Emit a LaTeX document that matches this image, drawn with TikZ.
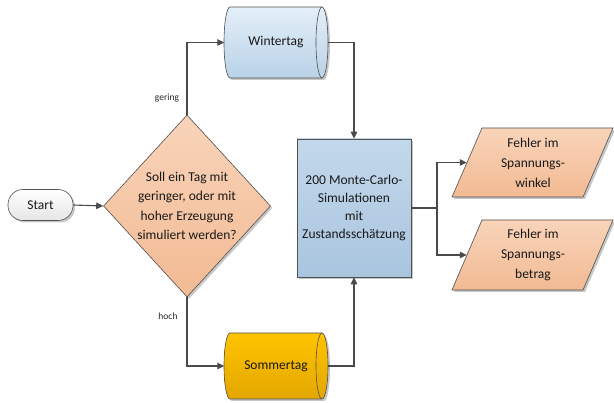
\documentclass[tikz,border=0pt]{standalone}
\usepackage{fontspec}
\setmainfont{Carlito}
\usetikzlibrary{arrows.meta,shapes.geometric,shadows}
\definecolor{linegray}{HTML}{4A4A4A}
\definecolor{edgegray}{HTML}{505050}
\definecolor{peachT}{HTML}{F9D4BA}
\definecolor{peachB}{HTML}{F2BA93}
\definecolor{winterT}{HTML}{E4EFF8}
\definecolor{winterB}{HTML}{B9D2E7}
\definecolor{sommerT}{HTML}{FFC400}
\definecolor{sommerB}{HTML}{E3A600}
\definecolor{boxT}{HTML}{C3D8EB}
\definecolor{boxB}{HTML}{A9C5DF}
\begin{document}
\begin{tikzpicture}[x=1pt,y=-1pt,
  line/.style={draw=linegray, line width=1.1pt},
  arr/.style={line, -{Triangle[length=7pt,width=6.5pt]}},
  txt/.style={font=\fontsize{13.5}{18.5}\selectfont, align=center, text=black!90, inner sep=0pt},
  lbl/.style={font=\fontsize{9.5}{11}\selectfont, text=black!85, inner sep=0pt},
  shd/.style={drop shadow={opacity=0.22, shadow xshift=2pt, shadow yshift=-2pt, fill=black}},
  edge/.style={draw=edgegray, line width=0.6pt},
  peach/.style={top color=peachT, bottom color=peachB}
]
\useasboundingbox (0,0) rectangle (614,403);

% Start
\node[txt, edge, shd, rounded corners=15pt, minimum width=65pt, minimum height=31pt,
      top color=white, bottom color=black!10] (start) at (40.5,205) {Start};

% Decision
\node[diamond, edge, shd, peach, minimum width=167pt, minimum height=182pt, inner sep=0pt] (dia) at (187,206) {};
\node[txt, font=\fontsize{13.5}{19.3}\selectfont] (q) at (dia.center) {Soll ein Tag mit\\geringer, oder mit\\hoher Erzeugung\\simuliert werden?};

% Wintertag cylinder
\path[edge, shd, top color=winterT, bottom color=winterB]
  (230,7) -- (322,7) arc[start angle=90, end angle=-90, x radius=6pt, y radius=35.5pt]
  -- (230,78) arc[start angle=270, end angle=90, x radius=6pt, y radius=35.5pt] -- cycle;
\draw[edge] (322,7) arc[start angle=90, end angle=270, x radius=6pt, y radius=35.5pt];
\node[txt, minimum width=103pt, minimum height=71pt] (wt) at (276,42.5) {Wintertag};

% Sommertag cylinder
\path[edge, shd, top color=sommerT, bottom color=sommerB]
  (230,333) -- (322,333) arc[start angle=90, end angle=-90, x radius=6pt, y radius=33pt]
  -- (230,399) arc[start angle=270, end angle=90, x radius=6pt, y radius=33pt] -- cycle;
\draw[edge] (322,333) arc[start angle=90, end angle=270, x radius=6pt, y radius=33pt];
\node[txt, minimum width=103pt, minimum height=66pt] (st) at (276,366) {Sommertag};

% Simulation box
\node[txt, edge, shd, top color=boxT, bottom color=boxB, minimum width=114pt, minimum height=138pt,
      font=\fontsize{13.5}{18.3}\selectfont] (box) at (354,208)
  {200 Monte-Carlo-\\Simulationen\\mit\\Zustandsschätzung};

% Output parallelograms
\path[edge, shd, peach] (452,197) -- (482,128) -- (613,128) -- (583,197) -- cycle;
\node[txt, minimum width=132pt, minimum height=69pt, font=\fontsize{13.5}{20}\selectfont] (p1) at (533,162.5)
  {Fehler im\\Spannungs-\\winkel};
\path[edge, shd, peach] (452,290) -- (482,220) -- (613,220) -- (583,290) -- cycle;
\node[txt, minimum width=132pt, minimum height=70pt, font=\fontsize{13.5}{20}\selectfont] (p2) at (533,255)
  {Fehler im\\Spannungs-\\betrag};

% Connectors
\draw[arr] (start.east) -- (dia.west);
\draw[arr] (dia.north) |- (wt.west);
\draw[arr] (dia.south) |- (st.west);
\draw[arr] (wt.east) -| (box.north);
\draw[arr] (st.east) -| (box.south);
\coordinate (br) at (437,208);
\draw[line] (box.east) -- (br);
\draw[arr] (br) |- (p1.west);
\draw[arr] (br) |- (p2.west);

% Labels
\node[lbl] (lg) at (167,98) {gering};
\node[lbl] (lh) at (168,316) {hoch};
\end{tikzpicture}
\end{document}
